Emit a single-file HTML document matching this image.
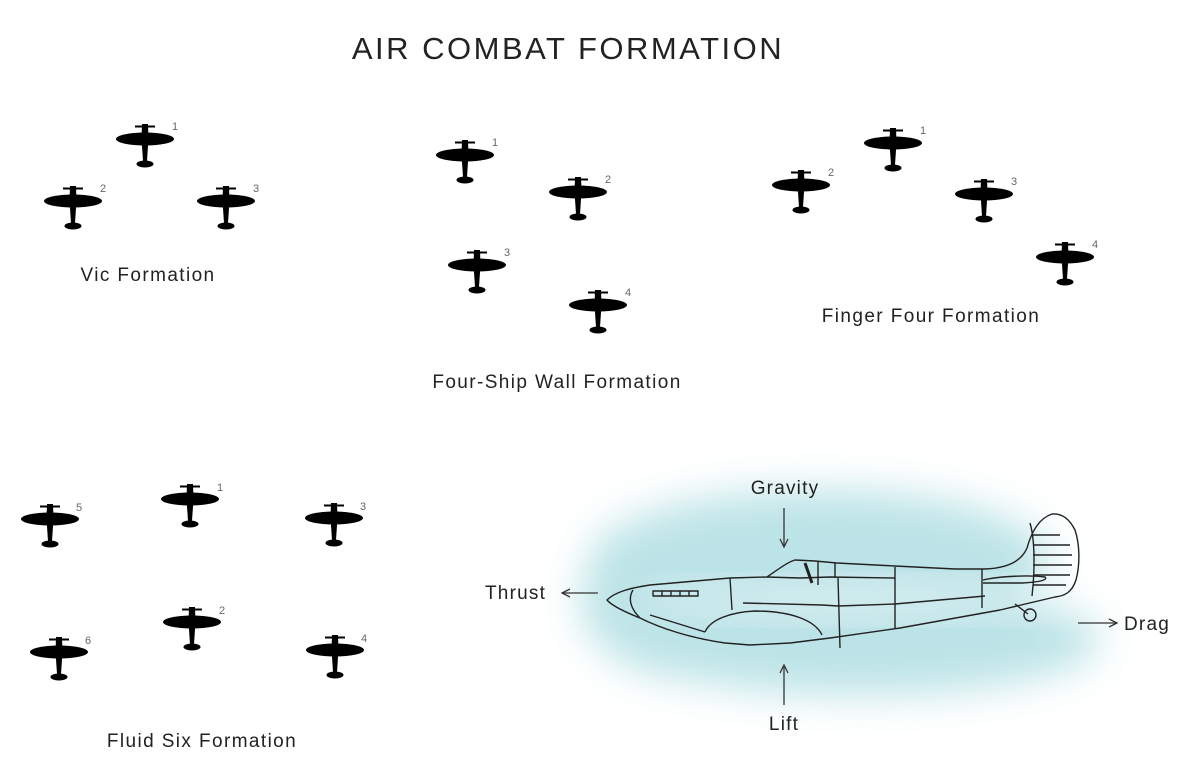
<!DOCTYPE html>
<html><head><meta charset="utf-8"><style>
body{margin:0;background:#fff;}
svg{display:block;}
text{font-family:"Liberation Sans","DejaVu Sans",sans-serif;}
</style></head><body>
<svg width="1181" height="760" viewBox="0 0 1181 760" xmlns="http://www.w3.org/2000/svg">
<defs>
<filter id="blur" x="-30%" y="-50%" width="160%" height="200%"><feGaussianBlur stdDeviation="20"/></filter>
<g id="p">
<ellipse cx="0" cy="0" rx="29" ry="6.5" fill="#000"/>
<path d="M-3,-15 L3,-15 L3.5,0 L2,22 L-2,22 L-3.5,0 Z" fill="#000"/>
<ellipse cx="0" cy="25" rx="8.5" ry="3.5" fill="#000"/>
<rect x="-10" y="-13.5" width="20" height="2" fill="#000"/>
<rect x="-12" y="-6" width="1" height="4" fill="#000"/>
<rect x="11" y="-6" width="1" height="4" fill="#000"/>
</g>
<marker id="ah" markerWidth="10" markerHeight="10" refX="9" refY="5" orient="auto" markerUnits="userSpaceOnUse"><path d="M1,1 L9,5 L1,9" fill="none" stroke="#333" stroke-width="1.3"/></marker>
</defs>

<text x="568" y="59" font-size="31" text-anchor="middle" fill="#222" letter-spacing="2.5">AIR COMBAT FORMATION</text>

<g font-size="11" fill="#666">
<use href="#p" x="145" y="139"/><text x="172" y="130">1</text>
<use href="#p" x="73" y="201"/><text x="100" y="192">2</text>
<use href="#p" x="226" y="201"/><text x="253" y="192">3</text>
<use href="#p" x="465" y="155"/><text x="492" y="146">1</text>
<use href="#p" x="578" y="192"/><text x="605" y="183">2</text>
<use href="#p" x="477" y="265"/><text x="504" y="256">3</text>
<use href="#p" x="598" y="305"/><text x="625" y="296">4</text>
<use href="#p" x="893" y="143"/><text x="920" y="134">1</text>
<use href="#p" x="801" y="185"/><text x="828" y="176">2</text>
<use href="#p" x="984" y="194"/><text x="1011" y="185">3</text>
<use href="#p" x="1065" y="257"/><text x="1092" y="248">4</text>
<use href="#p" x="50" y="519"/><text x="76" y="511">5</text>
<use href="#p" x="190" y="499"/><text x="217" y="491">1</text>
<use href="#p" x="334" y="518"/><text x="360" y="510">3</text>
<use href="#p" x="192" y="622"/><text x="219" y="614">2</text>
<use href="#p" x="59" y="652"/><text x="85" y="644">6</text>
<use href="#p" x="335" y="650"/><text x="361" y="642">4</text>
</g>

<g font-size="19" fill="#222" letter-spacing="1.4">
<text x="148" y="281" text-anchor="middle">Vic Formation</text>
<text x="557" y="388" text-anchor="middle">Four-Ship Wall Formation</text>
<text x="931" y="322" text-anchor="middle">Finger Four Formation</text>
<text x="202" y="747" text-anchor="middle">Fluid Six Formation</text>
</g>

<!-- watercolor -->
<g filter="url(#blur)" opacity="0.75">
<ellipse cx="820" cy="560" rx="230" ry="70" fill="#a6dadf"/>
<ellipse cx="860" cy="640" rx="240" ry="55" fill="#a6dadf"/>
<ellipse cx="700" cy="600" rx="120" ry="80" fill="#a6dadf"/>
</g>
<ellipse cx="850" cy="600" rx="220" ry="14" fill="#fff" opacity="0.5" filter="url(#blur)"/>

<g fill="none" stroke="#222" stroke-width="1.4" stroke-linejoin="round">
<path d="M607,600 C615,592 630,588 650,585 L730,578 L767,577 C780,568 788,562 795,560 L815,561 L837,563 L895,566 L955,569 L985,569 C1010,568 1022,560 1027,548 C1032,530 1040,518 1052,514 C1063,513 1070,520 1075,530 C1080,545 1080,565 1076,580 C1072,592 1065,596 1055,597 L1000,610 L900,628 L830,638 L790,643 L750,645 L725,643 C690,638 660,628 640,618 C625,612 612,606 607,600 Z"/>
<path d="M633,590 C628,598 630,608 640,618"/>
<path d="M705,632 C710,620 730,612 755,611 C790,611 815,620 822,635"/>
<path d="M730,578 L732,610"/>
<path d="M767,577 L800,578 L830,577 L895,578"/>
<path d="M743,603 L822,605 L838,606 L895,604 L985,596"/>
<path d="M838,578 L840,648"/>
<path d="M895,567 L895,628"/>
<path d="M982,569 L982,608"/>
<path d="M805,563 L812,583" stroke-width="3"/>
<path d="M818,562 L818,585 M835,563 L835,578"/>
<path d="M983,580 C1000,576 1030,575 1045,577 C1048,580 1040,582 1022,583 L983,583"/>
<path d="M1030,523 C1035,540 1035,570 1032,596"/>
<path d="M1032,535 L1060,535 M1033,545 L1070,545 M1033,555 L1072,555 M1033,565 L1072,565 M1033,575 L1070,575 M1033,585 L1066,585"/>
<path d="M1015,604 L1028,614"/>
<circle cx="1030" cy="615" r="6"/>
<path d="M653,591 L698,591 L698,596 L653,596 Z M662,591 L662,596 M671,591 L671,596 M680,591 L680,596 M689,591 L689,596"/>
<path d="M650,615 L705,632"/>
</g>

<g stroke="#333" stroke-width="1.3">
<line x1="784" y1="508" x2="784" y2="547" marker-end="url(#ah)"/>
<line x1="784" y1="705" x2="784" y2="665" marker-end="url(#ah)"/>
<line x1="598" y1="593" x2="562" y2="593" marker-end="url(#ah)"/>
<line x1="1078" y1="623" x2="1117" y2="623" marker-end="url(#ah)"/>
</g>
<g font-size="19" fill="#222" letter-spacing="1.2">
<text x="785" y="494" text-anchor="middle">Gravity</text>
<text x="784" y="730" text-anchor="middle">Lift</text>
<text x="485" y="599">Thrust</text>
<text x="1124" y="630">Drag</text>
</g>
</svg>
</body></html>
